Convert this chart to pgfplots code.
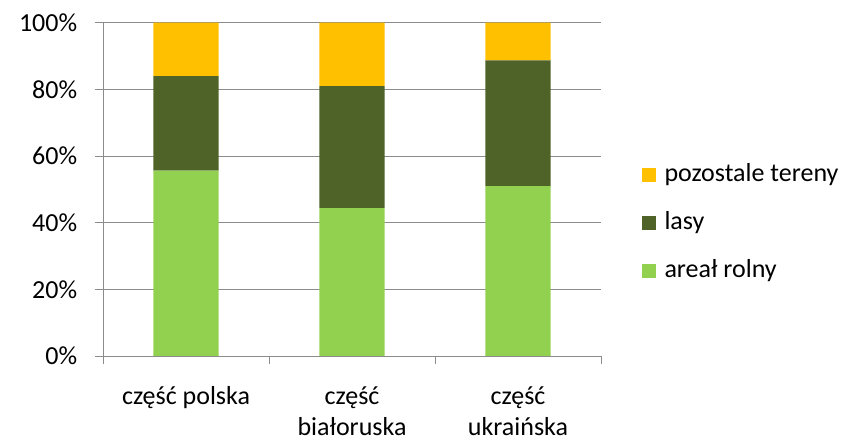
\documentclass[border=0pt]{standalone}
\usepackage{pgfplots}
\pgfplotsset{compat=1.18}
\usepackage{fontspec}
\setmainfont{Carlito}
\definecolor{cgreen}{HTML}{92D050}
\definecolor{cdark}{HTML}{4F6228}
\definecolor{corange}{HTML}{FFC000}
\definecolor{cgrid}{HTML}{8C8C8C}
\begin{document}
\fontsize{26bp}{31bp}\selectfont
\begin{tikzpicture}
\path[use as bounding box] (0,0) rectangle (845bp,442bp);
\begin{axis}[
  at={(103bp,86bp)}, anchor=south west,
  scale only axis, width=498bp, height=333.3bp,
  ybar stacked, bar width=65.3bp,
  xmin=-0.5, xmax=2.5, ymin=0, ymax=100,
  xtick={0,1,2},
  xticklabels={część polska,{część\\białoruska},{część\\ukraińska}},
  xticklabel style={align=center, font=\fontsize{26bp}{31bp}\selectfont, text=black, yshift=-14bp},
  major x tick style={draw=none},
  minor xtick={-0.5,0.5,1.5,2.5},
  minor x tick style={cgrid, line width=1pt},
  minor tick length=8bp,
  ytick={0,20,40,60,80,100},
  yticklabel={\pgfmathprintnumber{\tick}\%},
  yticklabel style={font=\fontsize{26bp}{31bp}\selectfont, text=black, xshift=-9bp},
  /pgf/number format/assume math mode=true,
  major tick length=8bp,
  tick align=outside,
  ytick style={cgrid, line width=1pt},
  ymajorgrids, grid style={cgrid, line width=1pt},
  axis x line*=bottom, axis y line*=left,
  axis line style={cgrid, line width=1pt},
  separate axis lines,
  x axis line style={-}, y axis line style={-},
  reverse legend,
  legend style={at={(1.075,0.40)}, anchor=west, draw=none, fill=none,
    font=\fontsize{26bp}{31bp}\selectfont, row sep=22bp,
    legend cell align=left,
    /tikz/every odd column/.style={column sep=7bp}},
  legend image code/.code={\fill[#1] (0bp,-7bp) rectangle (14bp,7bp);},
]
\addplot[fill=cgreen, draw=none] coordinates {(0,55.6) (1,44.4) (2,51.0)};
\addplot[fill=cdark, draw=none] coordinates {(0,28.4) (1,36.6) (2,37.7)};
\addplot[fill=corange, draw=none] coordinates {(0,16.0) (1,19.0) (2,11.3)};
\legend{areał rolny, lasy, pozostale tereny}
\end{axis}
\end{tikzpicture}
\end{document}
